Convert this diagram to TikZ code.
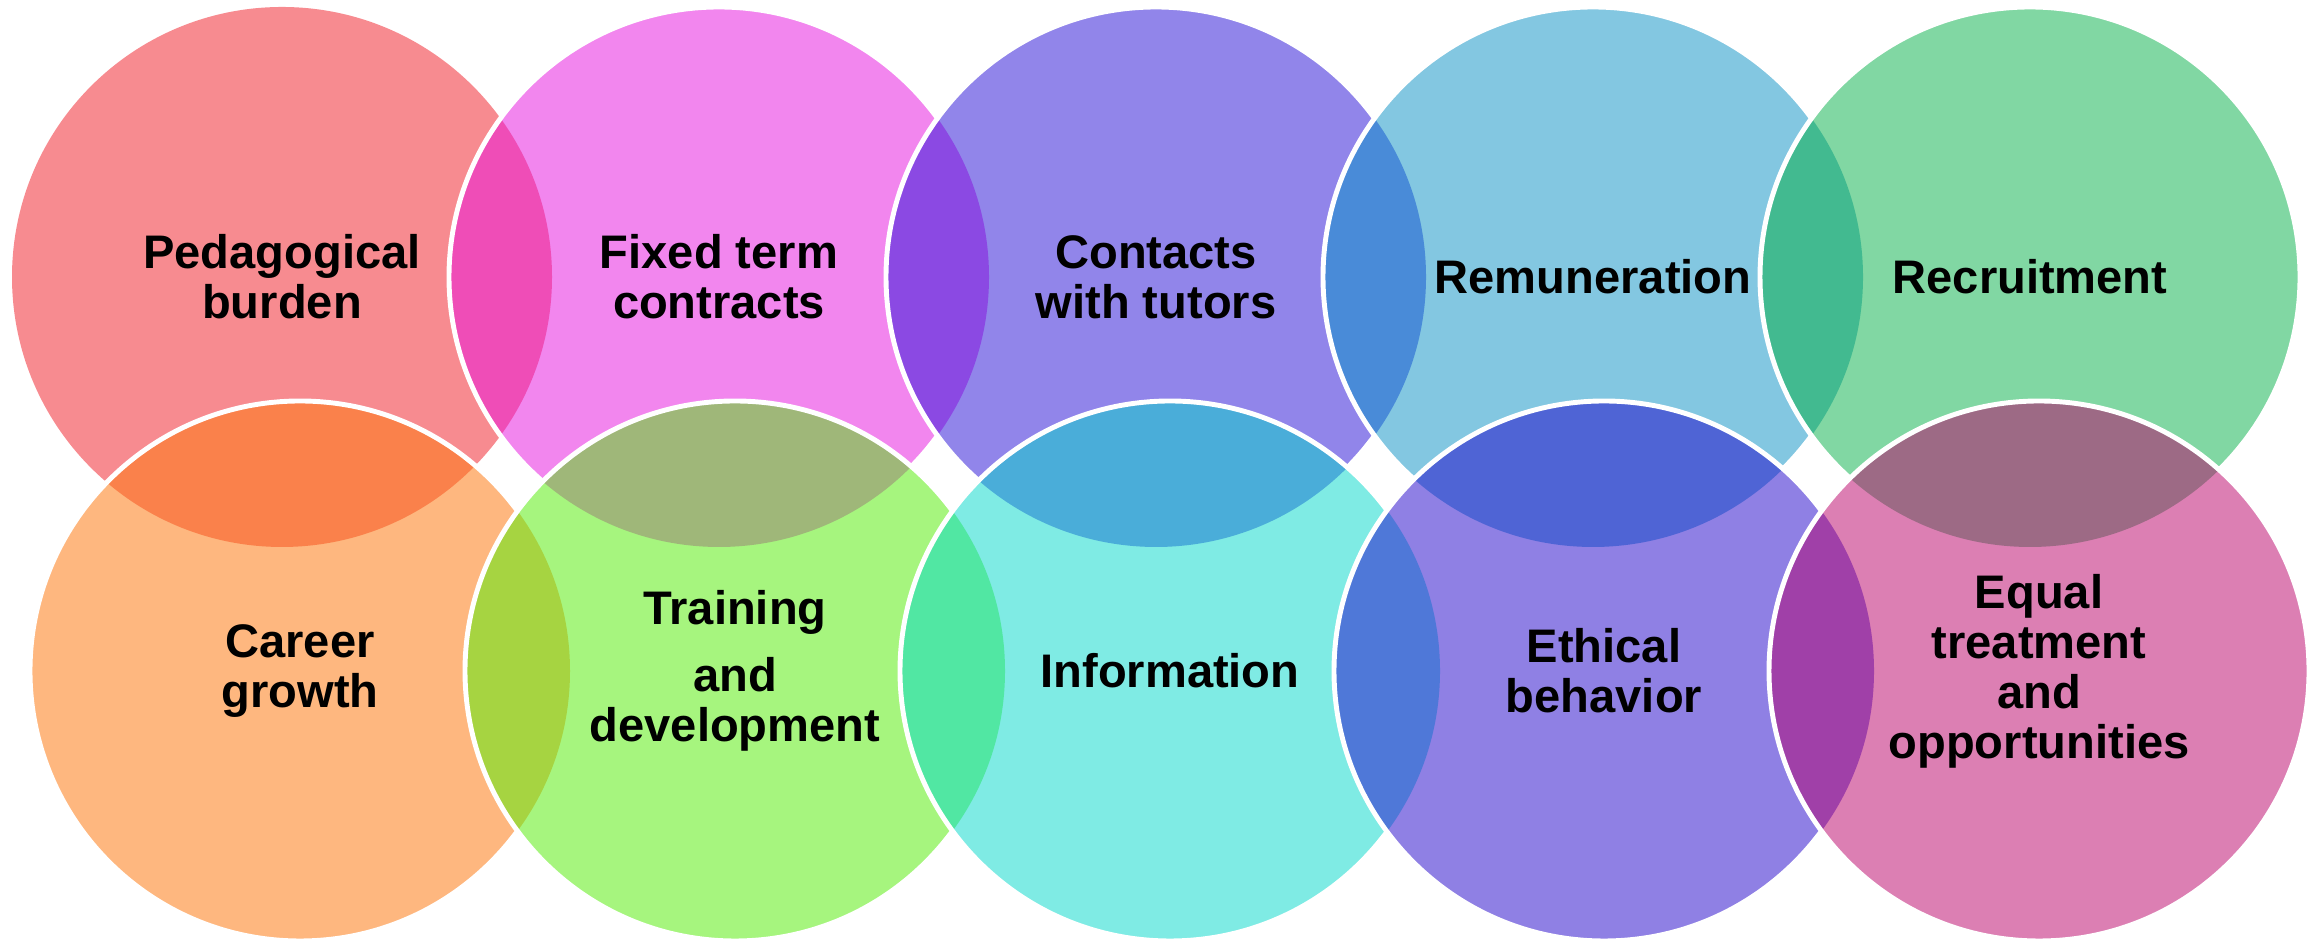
\documentclass[tikz,border=0pt]{standalone}
\usepackage{fontspec}
\setmainfont{Liberation Sans}

% circle fills
\definecolor{pedag}{HTML}{F78B90}
\definecolor{fixed}{HTML}{F286EE}
\definecolor{tutors}{HTML}{9185EA}
\definecolor{remun}{HTML}{83C7E1}
\definecolor{recru}{HTML}{81D7A3}
\definecolor{career}{HTML}{FEB77F}
\definecolor{train}{HTML}{A6F57E}
\definecolor{inform}{HTML}{7FEBE4}
\definecolor{ethic}{HTML}{8F80E4}
\definecolor{equal}{HTML}{DC7FB3}
% overlaps
\definecolor{pedfix}{HTML}{EF4DB7}
\definecolor{fixtut}{HTML}{8B49E3}
\definecolor{tutrem}{HTML}{498BD8}
\definecolor{remrec}{HTML}{42BA90}
\definecolor{pedcar}{HTML}{FA814B}
\definecolor{fixtra}{HTML}{9FB779}
\definecolor{tutinf}{HTML}{4AADD9}
\definecolor{remeth}{HTML}{4F64D5}
\definecolor{receq}{HTML}{9D6A85}
\definecolor{cartra}{HTML}{A6D441}
\definecolor{trainf}{HTML}{51E7A3}
\definecolor{infeth}{HTML}{4F78D8}
\definecolor{etheq}{HTML}{A040A8}

\begin{document}
\begin{tikzpicture}[
		ring/.style={draw=white, line width=1.4pt},
		label/.style={font=\bfseries\fontsize{13.4}{14.2}\selectfont, align=center, text=black}]
			\useasboundingbox (0,0) rectangle (23.21,9.42);
			% centres, top row then bottom row
			\coordinate (t1) at (2.82,6.65);
			\coordinate (t2) at (7.19,6.65);
			\coordinate (t3) at (11.56,6.65);
			\coordinate (t4) at (15.93,6.65);
			\coordinate (t5) at (20.30,6.65);
			\coordinate (b1) at (3.00,2.71);
			\coordinate (b2) at (7.35,2.71);
			\coordinate (b3) at (11.70,2.71);
			\coordinate (b4) at (16.04,2.71);
			\coordinate (b5) at (20.39,2.71);

			% top row
			\fill[pedag] (t1) circle[radius=2.7];
			\fill[fixed] (t2) circle[radius=2.7];
			\begin{scope} \clip (t1) circle[radius=2.7]; \fill[pedfix] (t2) circle[radius=2.7]; \end{scope}
			\draw[ring] (t2) circle[radius=2.7];
			\fill[tutors] (t3) circle[radius=2.7];
			\begin{scope} \clip (t2) circle[radius=2.7]; \fill[fixtut] (t3) circle[radius=2.7]; \end{scope}
			\draw[ring] (t3) circle[radius=2.7];
			\fill[remun] (t4) circle[radius=2.7];
			\begin{scope} \clip (t3) circle[radius=2.7]; \fill[tutrem] (t4) circle[radius=2.7]; \end{scope}
			\draw[ring] (t4) circle[radius=2.7];
			\fill[recru] (t5) circle[radius=2.7];
			\begin{scope} \clip (t4) circle[radius=2.7]; \fill[remrec] (t5) circle[radius=2.7]; \end{scope}
			\draw[ring] (t5) circle[radius=2.7];

			% bottom row
			\fill[career] (b1) circle[radius=2.7];
			\begin{scope} \clip (t1) circle[radius=2.7]; \fill[pedcar] (b1) circle[radius=2.7]; \end{scope}
			\draw[ring] (b1) circle[radius=2.7];
			\fill[train] (b2) circle[radius=2.7];
			\begin{scope} \clip (t2) circle[radius=2.7]; \fill[fixtra] (b2) circle[radius=2.7]; \end{scope}
			\begin{scope} \clip (b1) circle[radius=2.7]; \fill[cartra] (b2) circle[radius=2.7]; \end{scope}
			\draw[ring] (b2) circle[radius=2.7];
			\fill[inform] (b3) circle[radius=2.7];
			\begin{scope} \clip (t3) circle[radius=2.7]; \fill[tutinf] (b3) circle[radius=2.7]; \end{scope}
			\begin{scope} \clip (b2) circle[radius=2.7]; \fill[trainf] (b3) circle[radius=2.7]; \end{scope}
			\draw[ring] (b3) circle[radius=2.7];
			\fill[ethic] (b4) circle[radius=2.7];
			\begin{scope} \clip (t4) circle[radius=2.7]; \fill[remeth] (b4) circle[radius=2.7]; \end{scope}
			\begin{scope} \clip (b3) circle[radius=2.7]; \fill[infeth] (b4) circle[radius=2.7]; \end{scope}
			\draw[ring] (b4) circle[radius=2.7];
			\fill[equal] (b5) circle[radius=2.7];
			\begin{scope} \clip (t5) circle[radius=2.7]; \fill[receq] (b5) circle[radius=2.7]; \end{scope}
			\begin{scope} \clip (b4) circle[radius=2.7]; \fill[etheq] (b5) circle[radius=2.7]; \end{scope}
			\draw[ring] (b5) circle[radius=2.7];

			% labels
			\node[label] (burden) at (t1) {Pedagogical\\burden};
			\node[label] (contracts) at (t2) {Fixed term\\contracts};
			\node[label] (contacts) at (t3) {Contacts\\with tutors};
			\node[label] (remuneration) at (t4) {Remuneration};
			\node[label] (recruitment) at (t5) {Recruitment};
			\node[label] (growth) at (b1) {Career\\growth};
			\node[label] (training) at (b2) {Training\\[5pt]and\\development};
			\node[label] (information) at (b3) {Information};
			\node[label] (ethics) at (b4) {Ethical\\behavior};
			\node[label] (equality) at (b5) {Equal\\treatment\\and\\opportunities};
		\end{tikzpicture}
\end{document}
